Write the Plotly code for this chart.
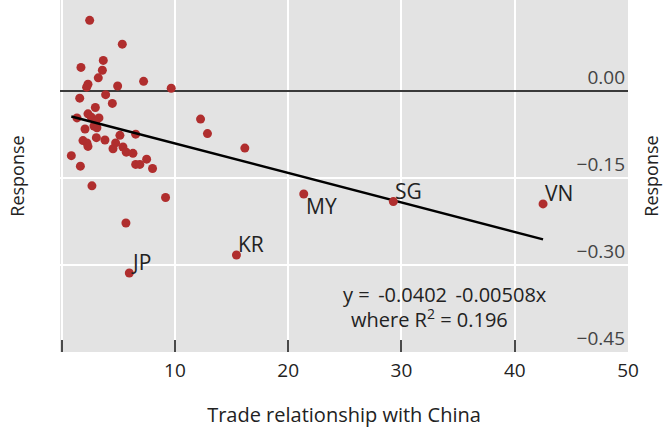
import plotly.graph_objects as go

# Unlabelled economies: trade relationship with China vs. response
trade = [2.47, 5.35, 3.67, 1.70, 3.59, 3.23, 2.32, 2.20, 4.94, 7.23, 9.67,
         1.59, 3.88, 4.47, 2.97, 2.32, 1.35, 2.62, 3.29, 2.99, 2.85, 3.11,
         2.06, 12.26, 12.87, 16.17, 6.53, 5.14, 3.06, 3.82, 1.88, 2.23,
         2.32, 4.76, 4.53, 5.41, 5.70, 6.29, 0.85, 7.50, 6.53, 6.90, 8.02,
         1.65, 2.67, 9.17, 5.67]
response = [0.121, 0.080, 0.052, 0.040, 0.035, 0.022, 0.011, 0.006, 0.008,
            0.016, 0.004, -0.013, -0.007, -0.022, -0.029, -0.040, -0.047,
            -0.046, -0.047, -0.054, -0.061, -0.064, -0.066, -0.049, -0.074,
            -0.099, -0.075, -0.077, -0.081, -0.085, -0.086, -0.090, -0.096,
            -0.090, -0.100, -0.097, -0.106, -0.108, -0.112, -0.118, -0.127,
            -0.127, -0.134, -0.130, -0.164, -0.184, -0.228]

# Labelled economies
codes = ["JP", "KR", "MY", "SG", "VN"]
code_trade = [5.97, 15.43, 21.37, 29.28, 42.50]
code_response = [-0.314, -0.283, -0.178, -0.191, -0.195]
code_below = [False, False, True, False, False]

# Fitted regression
intercept = -0.0402
slope = -0.00508
r_squared = 0.196

x_tickvals = [0, 10, 20, 30, 40]
x_ticktext = [" ", "10", "20", "30", "40"]
x_end_tick = [50]
x_end_text = ["50"]
y_ticks = [0.0, -0.15, -0.30, -0.45]
y_ticktext = ["0.00", "\u22120.15", "\u22120.30", "\u22120.45"]

FONT = "Open Sans"
INK = "#222222"
RED = "#B02E2E"
BG = "#E3E3E3"

all_x = trade + code_trade
fit_x = [min(all_x), max(all_x)]
fit_y = [intercept + slope * v for v in fit_x]

fig = go.Figure()

fig.add_trace(go.Scatter(
    x=trade, y=response, mode="markers",
    marker=dict(color=RED, size=9, line=dict(width=0)),
    showlegend=False, hoverinfo="skip"))

fig.add_trace(go.Scatter(
    x=fit_x, y=fit_y, mode="lines",
    line=dict(color="black", width=2.5),
    showlegend=False, hoverinfo="skip"))

fig.add_trace(go.Scatter(
    x=code_trade, y=code_response, mode="markers",
    marker=dict(color=RED, size=9, line=dict(width=0)),
    showlegend=False, hoverinfo="skip"))

# Invisible traces carrying the right-hand axis and the end-of-range x label
fig.add_trace(go.Scatter(
    x=[0], y=[0], yaxis="y2", mode="markers",
    marker=dict(opacity=0), showlegend=False, hoverinfo="skip"))
fig.add_trace(go.Scatter(
    x=[0], y=[0], xaxis="x2", mode="markers",
    marker=dict(opacity=0), showlegend=False, hoverinfo="skip"))

# Country codes next to their points
for name, cx, cy, below in zip(codes, code_trade, code_response, code_below):
    fig.add_annotation(
        x=cx, y=cy, xref="x", yref="y", text=name, showarrow=False,
        xanchor="left", yanchor="top" if below else "bottom",
        xshift=0, yshift=4 if below else -5,
        font=dict(family=FONT, size=21, color=INK))

# Regression equation
fig.add_annotation(
    x=0.678, y=0.164, xref="paper", yref="paper",
    text="y = \u2009-0.0402 \u2009-0.00508x",
    showarrow=False, xanchor="center", yanchor="middle",
    font=dict(family=FONT, size=20, color=INK))
fig.add_annotation(
    x=0.650, y=0.095, xref="paper", yref="paper",
    text="where R<sup>2</sup> = %.3f" % r_squared,
    showarrow=False, xanchor="center", yanchor="middle",
    font=dict(family=FONT, size=20, color=INK))

# Small pad on the left so the tick at 0 is kept
x_range = [-0.15, 50.0]

fig.update_layout(
    width=669, height=428,
    margin=dict(l=60, r=41, t=0, b=76),
    paper_bgcolor="white", plot_bgcolor=BG,
    font=dict(family=FONT, size=19, color=INK),
    xaxis=dict(
        range=x_range, tickvals=x_tickvals, ticktext=x_ticktext,
        ticks="inside", ticklen=12, tickwidth=2, tickcolor="#4a4a4a",
        showgrid=True, gridcolor="white", gridwidth=2,
        zeroline=False, showline=False,
        ticklabelstandoff=5, tickfont=dict(size=19),
        title=dict(text="Trade relationship with China", standoff=26,
                   font=dict(size=20)),
    ),
    xaxis2=dict(
        overlaying="x", matches="x", side="bottom", anchor="y",
        range=x_range, tickvals=x_end_tick, ticktext=x_end_text,
        ticks="", ticklabelstandoff=5, tickfont=dict(size=19),
        showgrid=False, zeroline=False, showline=False,
    ),
    yaxis=dict(
        range=[-0.45, 0.156], tickvals=y_ticks,
        showticklabels=False, ticks="",
        showgrid=True, gridcolor="white", gridwidth=2,
        zeroline=True, zerolinecolor="#3a3a3a", zerolinewidth=2,
        showline=False,
        title=dict(text="Response", standoff=29, font=dict(size=18)),
    ),
    yaxis2=dict(
        overlaying="y", side="right", matches="y",
        range=[-0.45, 0.156], tickvals=y_ticks, ticktext=y_ticktext,
        ticklabelposition="inside top", ticks="",
        tickfont=dict(size=19),
        showgrid=False, zeroline=False, showline=False,
        title=dict(text="Response", standoff=21, font=dict(size=18)),
    ),
)

fig.write_html("out.html")
